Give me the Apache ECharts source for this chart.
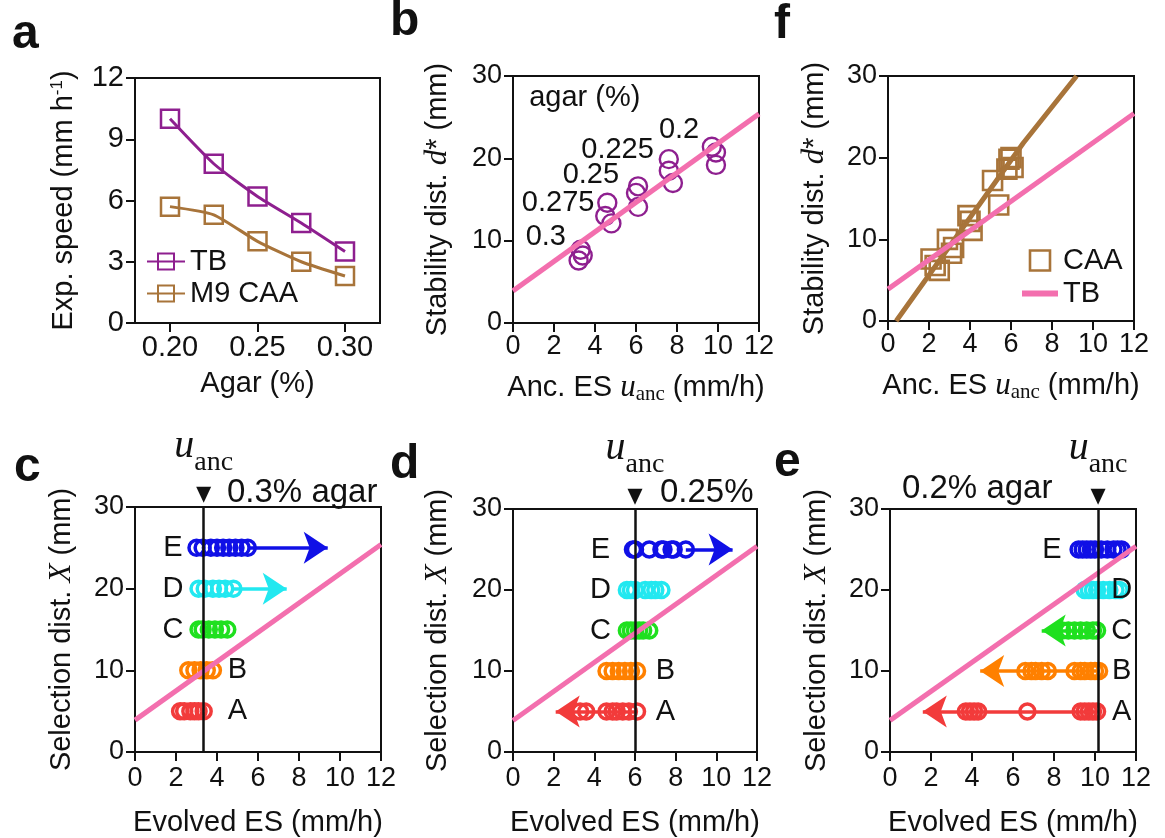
<!DOCTYPE html>
<html>
<head>
<meta charset="utf-8">
<script src="https://cdn.jsdelivr.net/npm/echarts@6/dist/echarts.min.js"></script>
<style>
  html, body { margin: 0; background: #fff; }
  #chart { width: 1165px; height: 838px; }
</style>
</head>
<body>
<div id="chart"></div>
<script>
// panel a: expansion speed vs agar
const agar = [0.2, 0.225, 0.25, 0.275, 0.3];
const tbSpeed = [10.0, 7.8, 6.2, 4.9, 3.5];
const caaSpeed = [5.7, 5.3, 4.0, 3.0, 2.3];
const agarTicks = [0.2, 0.25, 0.3];

// panel b: stability distance vs ancestral speed (TB)
const tbStability = [
  [3.2, 7.6], [3.4, 8.2], [3.3, 8.9],
  [4.6, 14.6], [4.5, 13.0], [4.8, 12.1],
  [6.1, 16.6], [6.0, 15.8], [6.1, 14.1],
  [7.6, 19.9], [7.6, 18.5], [7.8, 17.0],
  [9.7, 21.4], [9.9, 20.7], [9.9, 19.2],
];
const agarNotes = [
  ["agar (%)", 3.5, 27.3], ["0.2", 8.1, 23.4], ["0.225", 5.1, 21.0],
  ["0.25", 3.8, 18.0], ["0.275", 2.2, 14.6], ["0.3", 1.6, 10.4],
];
const tbFit = [[0, 3.9], [12, 25.4]];

// panel f: CAA
const caaStability = [
  [2.1, 7.6], [2.3, 6.8], [2.5, 6.2], [2.9, 10.0], [3.1, 8.3], [3.2, 9.0],
  [3.9, 12.9], [4.0, 12.2], [4.1, 11.1], [5.1, 17.2], [5.4, 14.2],
  [5.8, 18.6], [5.9, 19.8], [6.0, 20.0], [6.1, 18.8],
];
const caaFit = [[0.4, 0], [6.6, 21.8], [9.2, 30]];

// panels c, d, e: evolved speeds per selection distance
const rowY = [5, 10, 15, 20, 25];
const rowNames = ["A", "B", "C", "D", "E"];
const rowColors = ["#f23b3b", "#ff8000", "#1fe01f", "#22e8f0", "#1010e6"];

const evolvedC = [
  [2.2, 2.4, 2.7, 2.9, 3.1, 3.35],
  [2.6, 2.9, 3.2, 3.5, 3.8],
  [3.1, 3.3, 3.6, 3.9, 4.2, 4.5],
  [3.1, 3.4, 3.8, 4.1, 4.4, 4.8],
  [3.0, 3.3, 3.7, 4.0, 4.3, 4.6, 4.9, 5.2, 5.5],
];
const evolvedD = [
  [3.3, 3.6, 4.6, 4.9, 5.1, 5.4, 5.7, 6.1],
  [4.6, 4.9, 5.2, 5.5, 5.8, 6.1],
  [5.6, 5.8, 6.0, 6.2, 6.4, 6.7],
  [5.6, 5.8, 6.0, 6.5, 6.8, 7.0, 7.3],
  [5.9, 6.0, 6.7, 7.3, 7.4, 7.8, 7.9, 8.5],
];
const evolvedE = [
  [3.7, 3.9, 4.1, 4.3, 6.7, 9.3, 9.5, 9.7, 9.9, 10.1],
  [6.6, 6.9, 7.1, 7.4, 7.7, 9.0, 9.3, 9.5, 9.8, 10.0, 10.2],
  [8.4, 8.7, 9.0, 9.3, 9.6, 9.9, 10.1],
  [9.5, 9.7, 9.9, 10.1, 10.4, 10.7, 11.0, 11.2],
  [9.2, 9.4, 9.6, 9.8, 10.0, 10.3, 10.6, 10.9, 11.1, 11.3],
];
// [row index, from, to]
const arrowsC = [[3, 4.8, 7.4], [4, 5.5, 9.4]];
const arrowsD = [[0, 6.1, 2.1], [4, 8.5, 10.8]];
const arrowsE = [[0, 10.1, 1.6], [1, 10.2, 4.4], [2, 10.1, 7.4]];
const letterXC = [5.0, 5.0, 1.85, 1.85, 1.85];
const letterXD = [7.5, 7.5, 4.3, 4.3, 4.3];
const letterXE = [11.3, 11.3, 11.3, 11.3, 7.9];
const uAnc = { c: 3.35, d: 6.0, e: 10.15 };

const purple = "#8e1f8f";
const brown = "#a8743a";
const pink = "#f36fae";
const ink = "#111";
const font = "Liberation Sans";

const grids = [
  { left: 135, top: 78, width: 245, height: 245 },  // a
  { left: 513, top: 76, width: 246, height: 247 },  // b
  { left: 888, top: 76, width: 246, height: 245 },  // f
  { left: 135, top: 507, width: 246, height: 245 }, // c
  { left: 513, top: 509, width: 244, height: 244 }, // d
  { left: 890, top: 509, width: 246, height: 244 }, // e
].map((g) => ({ ...g, show: true, borderColor: ink, borderWidth: 2, backgroundColor: "transparent" }));

const richName = {
  it: { fontFamily: "Liberation Serif", fontStyle: "italic", fontSize: 31, color: ink, lineHeight: 34 },
  sub: { fontFamily: "Liberation Serif", fontSize: 21, color: ink, padding: [12, 0, 0, 0] },
  sup: { fontFamily: font, fontSize: 17, color: ink, padding: [0, 0, 14, 0] },
  t: { fontFamily: font, fontSize: 29, color: ink, lineHeight: 34 },
};

function axisBase(gi, isX) {
  return {
    gridIndex: gi,
    type: "value",
    axisLine: { show: true, onZero: false, lineStyle: { color: ink, width: 2 } },
    axisTick: { show: true, length: 9, lineStyle: { color: ink, width: 2 } },
    axisLabel: { fontSize: gi === 0 ? 29 : 27, color: ink, fontFamily: font,
      margin: isX ? (gi >= 3 ? 13 : 10) : 11, hideOverlap: false },
    splitLine: { show: false },
    nameLocation: "middle",
    nameTextStyle: { fontSize: 29, color: ink, fontFamily: font, rich: richName },
  };
}

const xName = { es: "{t|Anc. ES }{it|u}{sub|anc}{t| (mm/h)}", ev: "Evolved ES (mm/h)" };
const yName = { d: "{t|Stability dist. }{it|d}{t|* (mm)}", x: "{t|Selection dist. }{it|X}{t| (mm)}" };

const xAxes = [
  { ...axisBase(0, true), min: 0.18, max: 0.32, name: "Agar (%)", nameGap: 46,
    axisLabel: { ...axisBase(0, true).axisLabel, customValues: agarTicks, formatter: (v) => v.toFixed(2) },
    axisTick: { ...axisBase(0, true).axisTick, customValues: agarTicks } },
  { ...axisBase(1, true), min: 0, max: 12, interval: 2, name: xName.es, nameGap: 48 },
  { ...axisBase(2, true), min: 0, max: 12, interval: 2, name: xName.es, nameGap: 48 },
  { ...axisBase(3, true), min: 0, max: 12, interval: 2, name: xName.ev, nameGap: 56 },
  { ...axisBase(4, true), min: 0, max: 12, interval: 2, name: xName.ev, nameGap: 56 },
  { ...axisBase(5, true), min: 0, max: 12, interval: 2, name: xName.ev, nameGap: 56 },
];
const yAxes = [
  { ...axisBase(0), min: 0, max: 12, interval: 3, name: "{t|Exp. speed (mm h}{sup|-1}{t|)}", nameGap: 54 },
  { ...axisBase(1), min: 0, max: 30, interval: 10, name: yName.d, nameGap: 58 },
  { ...axisBase(2), min: 0, max: 30, interval: 10, name: yName.d, nameGap: 56 },
  { ...axisBase(3), min: 0, max: 30, interval: 10, name: yName.x, nameGap: 56 },
  { ...axisBase(4), min: 0, max: 30, interval: 10, name: yName.x, nameGap: 58 },
  { ...axisBase(5), min: 0, max: 30, interval: 10, name: yName.x, nameGap: 56 },
];

function openStyle(color, width) {
  return { color: "rgba(0,0,0,0)", borderColor: color, borderWidth: width, opacity: 1 };
}

function textSeries(gi, items, size) {
  return {
    type: "scatter", xAxisIndex: gi, yAxisIndex: gi, symbolSize: 1, clip: false, z: 6,
    itemStyle: { color: "rgba(0,0,0,0)", opacity: 1 },
    label: { show: true, position: "inside", formatter: (p) => p.name, fontSize: size, color: ink, fontFamily: font },
    data: items.map(([name, x, y]) => ({ name, value: [x, y] })),
  };
}

function fitSeries(gi, name, data) {
  return {
    type: "line", name, xAxisIndex: gi, yAxisIndex: gi, data, symbol: "none", showSymbol: false, z: 4,
    lineStyle: { color: pink, width: 5 }, itemStyle: { color: pink },
  };
}

function evolvedPanel(gi, rows, arrows, letterX, u) {
  const out = rows.map((xs, i) => {
    const arrow = arrows.filter((a) => a[0] === i);
    return {
      type: "scatter", xAxisIndex: gi, yAxisIndex: gi, symbol: "circle", symbolSize: 15, z: 3,
      itemStyle: openStyle(rowColors[i], 3.5),
      data: xs.map((x) => [x, rowY[i]]),
      markLine: arrow.length ? {
        silent: true, symbol: ["none", "arrow"], symbolSize: 24, label: { show: false },
        lineStyle: { color: rowColors[i], width: 3.5, type: "solid", opacity: 1 },
        data: arrow.map(([, from, to]) => [{ coord: [from, rowY[i]] }, { coord: [to, rowY[i]] }]),
      } : undefined,
    };
  });
  out.push(fitSeries(gi, "fit" + gi, tbFit));
  out.push(textSeries(gi, rowNames.map((n, i) => [n, letterX[i], rowY[i]]), 29));
  out.push({
    type: "scatter", xAxisIndex: gi, yAxisIndex: gi, symbol: "triangle", symbolRotate: 180,
    symbolSize: [15, 16], clip: false, z: 8, itemStyle: { color: ink, opacity: 1 },
    data: [[u, 31.5]],
    label: {
      show: true, position: "top", distance: 4, formatter: "{u|u}{s|anc}",
      rich: {
        u: { fontFamily: "Liberation Serif", fontStyle: "italic", fontSize: 40, color: ink, padding: [0, 0, 16, 0] },
        s: { fontFamily: "Liberation Serif", fontSize: 28, color: ink, padding: [16, 0, 0, 0] },
      },
    },
    markLine: {
      silent: true, symbol: "none", label: { show: false },
      lineStyle: { color: ink, width: 2.5, type: "solid", opacity: 1 },
      data: [{ xAxis: u }],
    },
  });
  return out;
}

const series = [
  // a
  { type: "line", name: "TB", xAxisIndex: 0, yAxisIndex: 0, smooth: 0.2, symbol: "rect", symbolSize: 18,
    data: agar.map((x, i) => [x, tbSpeed[i]]), lineStyle: { color: purple, width: 3 },
    itemStyle: openStyle(purple, 2.5) },
  { type: "line", name: "M9 CAA", xAxisIndex: 0, yAxisIndex: 0, smooth: 0.2, symbol: "rect", symbolSize: 18,
    data: agar.map((x, i) => [x, caaSpeed[i]]), lineStyle: { color: brown, width: 3 },
    itemStyle: openStyle(brown, 2.5) },
  // b
  { type: "scatter", name: "b pts", xAxisIndex: 1, yAxisIndex: 1, symbol: "circle", symbolSize: 18, z: 3,
    data: tbStability, itemStyle: openStyle(purple, 2.4) },
  fitSeries(1, "fit b", tbFit),
  textSeries(1, agarNotes, 29),
  // f
  { type: "scatter", name: "CAA", xAxisIndex: 2, yAxisIndex: 2, symbol: "rect", symbolSize: 19, z: 3,
    data: caaStability, itemStyle: openStyle(brown, 2.6) },
  { type: "line", name: "caa fit", xAxisIndex: 2, yAxisIndex: 2, data: caaFit, symbol: "none", z: 4,
    lineStyle: { color: brown, width: 5 }, itemStyle: { color: brown } },
  fitSeries(2, "TB ", tbFit),
  // c, d, e
  ...evolvedPanel(3, evolvedC, arrowsC, letterXC, uAnc.c),
  ...evolvedPanel(4, evolvedD, arrowsD, letterXD, uAnc.d),
  ...evolvedPanel(5, evolvedE, arrowsE, letterXE, uAnc.e),
];

function panelText(x, y, text, size, bold) {
  return {
    type: "text", x, y, z: 10,
    style: { text, fill: ink, font: `${bold ? "bold " : ""}${size}px ${font}`, verticalAlign: "bottom" },
  };
}

const chart = echarts.init(document.getElementById("chart"));
chart.setOption({
  animation: false,
  backgroundColor: "#fff",
  grid: grids,
  xAxis: xAxes,
  yAxis: yAxes,
  legend: [
    { data: ["TB", "M9 CAA"], orient: "vertical", left: 146, top: 247, padding: 0, itemGap: 3,
      itemWidth: 38, itemHeight: 20, selectedMode: false,
      textStyle: { fontSize: 29, color: ink, fontFamily: font } },
    { data: [
        { name: "CAA", icon: "path://M0,0H18V18H0Z", itemStyle: { color: "rgba(0,0,0,0)", borderColor: brown, borderWidth: 2.6 } },
        { name: "TB ", icon: "path://M0,0H30V5H0Z", itemStyle: { color: pink, borderWidth: 0 } },
      ],
      orient: "vertical", left: 1022, top: 246, padding: 0, itemGap: 4,
      itemWidth: 36, itemHeight: 20, selectedMode: false,
      textStyle: { fontSize: 29, color: ink, fontFamily: font } },
  ],
  graphic: [
    panelText(12, 59, "a", 48, true),
    panelText(390, 46, "b", 48, true),
    panelText(774, 49, "f", 48, true),
    panelText(14, 492, "c", 48, true),
    panelText(390, 489, "d", 48, true),
    panelText(774, 487, "e", 48, true),
    panelText(227, 509, "0.3% agar", 33, false),
    panelText(660, 509, "0.25%", 33, false),
    panelText(902, 505, "0.2% agar", 33, false),
  ],
  series,
});
</script>
</body>
</html>
